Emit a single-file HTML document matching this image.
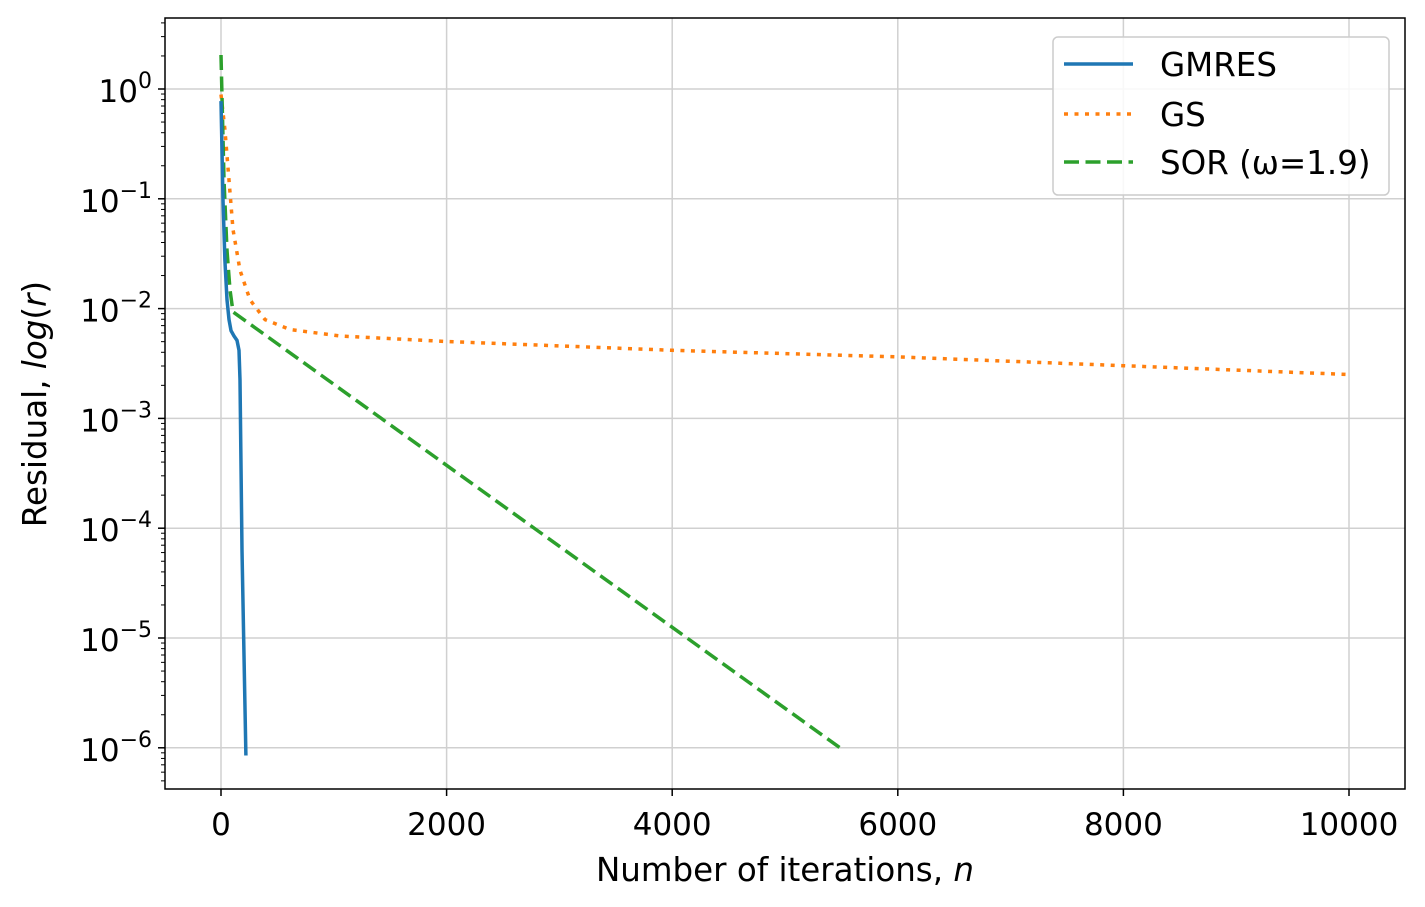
<!DOCTYPE html>
<html><head><meta charset="utf-8"><style>
html,body{margin:0;padding:0;background:#fff;}
svg{display:block;font-family:"DejaVu Sans","Liberation Sans",sans-serif;}
</style></head><body>
<svg id="chart" width="1425" height="907" viewBox="0 0 1425 907">
<g id="grid"></g>
<g id="series"></g>
<rect x="165" y="18" width="1240" height="771" fill="none" stroke="#000" stroke-width="1.5"/>
<g id="axes"></g>
<text x="785" y="881" font-size="32.5" text-anchor="middle">Number of iterations, <tspan font-style="italic">n</tspan></text>
<text transform="translate(46,404) rotate(-90)" font-size="32.5" text-anchor="middle">Residual, <tspan font-style="italic">log</tspan>(<tspan font-style="italic">r</tspan>)</text>
<g>
<rect x="1053" y="37" width="336" height="158" rx="5" fill="#fff" fill-opacity="0.85" stroke="#ccc" stroke-width="1.5"/>
<line x1="1064" y1="64" x2="1133" y2="64" stroke="#1f77b4" stroke-width="3.5"/>
<text x="1160" y="76" font-size="32.5">GMRES</text>
<line x1="1064" y1="114" x2="1133" y2="114" stroke="#ff7f0e" stroke-width="3.5" stroke-dasharray="4,6.5"/>
<text x="1160" y="126" font-size="32.5">GS</text>
<line x1="1064" y1="162" x2="1133" y2="162" stroke="#2ca02c" stroke-width="3.5" stroke-dasharray="15,6.5"/>
<text x="1160" y="174" font-size="32.5">SOR (ω=1.9)</text>
</g>
</svg>
<script>
const xTicks = [0, 2000, 4000, 6000, 8000, 10000];
const yTickExps = [0, -1, -2, -3, -4, -5, -6];
const gmresN = [0, 18, 35, 53, 71, 89, 115, 142, 160, 168, 186, 221];
const gmresLog = [-0.11, -1.01, -1.56, -1.92, -2.10, -2.20, -2.25, -2.29, -2.38, -2.65, -4.2, -6.07];
const gsN = [0, 35, 71, 106, 168, 257, 390, 612, 1055, 2000, 4000, 6000, 8000, 10000];
const gsLog = [-0.05, -0.37, -0.83, -1.28, -1.65, -1.92, -2.10, -2.19, -2.25, -2.30, -2.38, -2.44, -2.52, -2.60];
const sorN = [0, 27, 53, 80, 106, 5488];
const sorLog = [0.31, -0.83, -1.47, -1.83, -2.03, -6.0];

const NS = "http://www.w3.org/2000/svg";
function xs(n){ return 221 + n * 0.1128; }
function ys(l){ return 89 - l * 109.8; }
function mk(tag, attrs, parent){ const e=document.createElementNS(NS,tag); for(const k in attrs) e.setAttribute(k, attrs[k]); parent.appendChild(e); return e; }
const grid=document.getElementById('grid'), axes=document.getElementById('axes'), series=document.getElementById('series');

xTicks.forEach(t=>{
  const x=xs(t);
  const g=mk('line',{x1:x,y1:18,x2:x,y2:789,stroke:'#d0d0d0','stroke-width':1.5},grid);
  
  
  const tk=mk('line',{x1:x,y1:789,x2:x,y2:796,stroke:'#000','stroke-width':1.5},axes);
  
  
  const tx=mk('text',{x:x,y:835,'font-size':31,'text-anchor':'middle'},axes);
  tx.textContent=String(t);
  
  
});
yTickExps.forEach(e=>{
  const y=ys(e);
  const g=mk('line',{x1:165,y1:y,x2:1405,y2:y,stroke:'#d0d0d0','stroke-width':1.5},grid);
  
  
  const tk=mk('line',{x1:158,y1:y,x2:165,y2:y,stroke:'#000','stroke-width':1.5},axes);
  
  
  const tx=mk('text',{x:152,y:y+13,'font-size':31,'text-anchor':'end'},axes);
  
  
  tx.appendChild(document.createTextNode('10'));
  const sp=document.createElementNS(NS,'tspan'); sp.setAttribute('dy','-14'); sp.setAttribute('font-size','22');
  sp.textContent = e===0 ? '0' : '\u2212'+(-e); tx.appendChild(sp);
});
for(let e=-7;e<=0;e++){
  for(let m=2;m<=9;m++){
    const y=ys(e+Math.log10(m));
    if(y<18||y>789) continue;
    const tk=mk('line',{x1:161,y1:y,x2:165,y2:y,stroke:'#000','stroke-width':1},axes);
    
    
  }
}
function path(ns, ls, color, dash, name){
  const d=ns.map((n,i)=>(i?'L':'M')+xs(n).toFixed(1)+','+ys(ls[i]).toFixed(1)).join(' ');
  const p=mk('path',{d:d,fill:'none',stroke:color,'stroke-width':3.5,'stroke-linejoin':'round'},series);
  if(dash) p.setAttribute('stroke-dasharray',dash);
  
  
}
path(gsN, gsLog, '#ff7f0e', '4,6.5', 'gs-line');
path(sorN, sorLog, '#2ca02c', '15,6.5', 'sor-line');
path(gmresN, gmresLog, '#1f77b4', null, 'gmres-line');
</script>
</body></html>
